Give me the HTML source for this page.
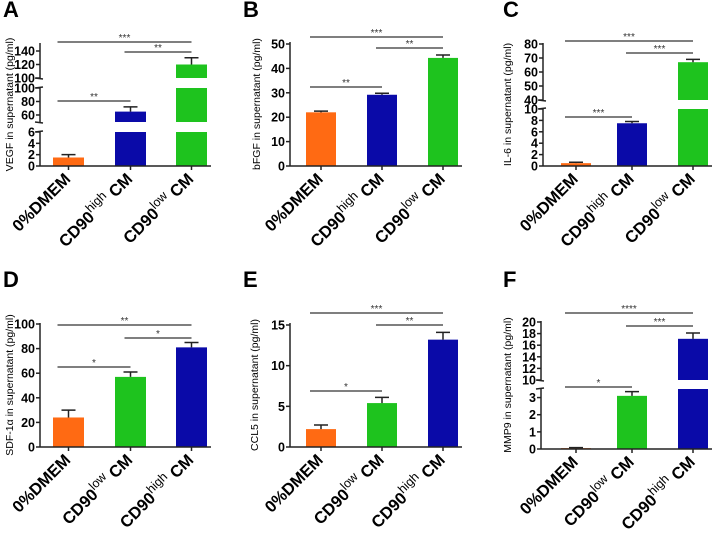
<!DOCTYPE html>
<html><head><meta charset="utf-8"><style>
body{margin:0;background:#fff}
svg text{font-family:"Liberation Sans",Arial,sans-serif}
</style></head><body>
<svg id="fig" width="725" height="532" viewBox="0 0 725 532"></svg>
<script>
// ---- data ----
const catsA=["0%DMEM","CD90|high| CM","CD90|low| CM"];
const catsD=["0%DMEM","CD90|low| CM","CD90|high| CM"];
const valsA=[1.5,65,120], errA=[2.0,72,130];
const valsB=[22,29.2,44.3], errB=[22.5,29.8,45.5];
const valsC=[0.5,7.5,67], errC=[0.65,7.8,69];
const valsD=[24,57,81], errD=[30,61,85];
const valsE=[2.2,5.4,13.2], errE=[2.7,6.1,14.1];
const valsF=[0.05,3.1,17.1], errF=[0.08,3.35,18.1];
const ticksA=[[0,2,4,6],[60,80,100],[100,120,140]];
const ticksB=[[0,10,20,30,40,50]];
const ticksC=[[0,2,4,6,8,10],[40,50,60,70,80]];
const ticksD=[[0,20,40,60,80,100]];
const ticksE=[[0,5,10,15]];
const ticksF=[[0,1,2,3],[10,12,14,16,18,20]];
const sigA=[["***",0,2],["**",1,2],["**",0,1]];
const sigB=[["***",0,2],["**",1,2],["**",0,1]];
const sigC=[["***",0,2],["***",1,2],["***",0,1]];
const sigD=[["**",0,2],["*",1,2],["*",0,1]];
const sigE=[["***",0,2],["**",1,2],["*",0,1]];
const sigF=[["****",0,2],["***",1,2],["*",0,1]];

const OR="#ff6a13",BL="#0a0aa8",GR="#1ec31e";
const NS="http://www.w3.org/2000/svg";
const svg=document.getElementById('fig');
function mk(t,a,p){const e=document.createElementNS(NS,t);for(const k in a)e.setAttribute(k,a[k]);(p||svg).appendChild(e);return e;}

const panels=[
 {L:"A",lx:3,ax:40,base:166,top:43,xs:[53,115,176],bw:31,colors:[OR,BL,GR],cats:catsA,vals:valsA,err:errA,ticks:ticksA,
  segs:[[0,6,166,132],[49.6,100,122,88],[100,140,78,51]],sig:sigA,sigY:[42,52,101],ylab:"VEGF in supernatant (pg/ml)",ylx:10},
 {L:"B",lx:243,ax:290,base:166,top:42,xs:[306,367,428],bw:30,colors:[OR,BL,GR],cats:catsA,vals:valsB,err:errB,ticks:ticksB,
  segs:[[0,50,166,44]],sig:sigB,sigY:[37,48,87],ylab:"bFGF in supernatant (pg/ml)",ylx:257},
 {L:"C",lx:503,ax:543,base:166,top:43,xs:[561,617,678],bw:30,colors:[OR,BL,GR],cats:catsA,vals:valsC,err:errC,ticks:ticksC,
  segs:[[0,10,166,109],[40,80,100,44]],sig:sigC,sigY:[41,53,117],ylab:"IL-6 in supernatant (pg/ml)",ylx:508},
 {L:"D",lx:3,ax:40,base:447,top:323,xs:[53,115,176],bw:31,colors:[OR,GR,BL],cats:catsD,vals:valsD,err:errD,ticks:ticksD,
  segs:[[0,100,447,324]],sig:sigD,sigY:[325,338,367],ylab:"SDF-1α in supernatant (pg/ml)",ylx:10},
 {L:"E",lx:243,ax:290,base:447,top:323,xs:[306,367,428],bw:30,colors:[OR,GR,BL],cats:catsD,vals:valsE,err:errE,ticks:ticksE,
  segs:[[0,15,447,325]],sig:sigE,sigY:[313,325,391],ylab:"CCL5 in supernatant (pg/ml)",ylx:255},
 {L:"F",lx:503,ax:541,base:449,top:321,xs:[561,617,678],bw:30,colors:[OR,GR,BL],cats:catsD,vals:valsF,err:errF,ticks:ticksF,
  segs:[[0,3.5,449,389],[10,20,380,322]],sig:sigF,sigY:[313,326,387],ylab:"MMP9 in supernatant (pg/ml)",ylx:508}
];

function segY(s,v){return s[2]+(v-s[0])*(s[3]-s[2])/(s[1]-s[0]);}
function yOf(p,v){for(let i=p.segs.length-1;i>=0;i--){const s=p.segs[i];if(v>=s[0]-1e-9)return segY(s,v);}return p.base;}

panels.forEach((p,pi)=>{
 const g=mk('g',{});
 
 
 const lt=mk('text',{x:p.lx,y:(pi<3?17:287),'font-size':22,'font-weight':'bold',fill:'#000'},g);lt.textContent=p.L;
 
 p.vals.forEach((v,i)=>{
  const x=p.xs[i];
  p.segs.forEach((s,si)=>{
   if(v<=s[0])return;
   const last=si==p.segs.length-1;
   const vv=last?v:Math.min(v,s[1]);
   const y1=segY(s,vv),y0=s[2];
   const r=mk('rect',{x:x,y:Math.min(y0,y1),width:p.bw,height:Math.max(0.8,Math.abs(y0-y1)),fill:p.colors[i]},g);
   
   
  });
  const vy=yOf(p,v),ey=yOf(p,p.err[i]),cx=x+p.bw/2;
  const e=mk('path',{d:`M${cx},${vy}V${ey}M${cx-7},${ey}H${cx+7}`,stroke:'#222','stroke-width':1.5,fill:'none'},g);
  
  const lx=cx+3,ly=p.base+14;
  const t=mk('text',{x:lx,y:ly,'text-anchor':'end','font-size':16.5,'font-weight':'bold',transform:`rotate(-45 ${lx} ${ly})`},g);
  
  const parts=p.cats[i].split('|');
  if(parts.length==1)t.textContent=parts[0];
  else{mk('tspan',{},t).textContent=parts[0];
   mk('tspan',{'baseline-shift':'super','font-size':12.5,'font-weight':'normal'},t).textContent=parts[1];
   mk('tspan',{},t).textContent=parts[2];}
 });
 const ax=p.ax;
 p.segs.forEach((s,si)=>{
  const topY=si==p.segs.length-1?p.top:s[3];
  mk('line',{x1:ax,y1:s[2],x2:ax,y2:topY,stroke:'#222','stroke-width':1.5},g);
  p.ticks[si].forEach(tv=>{
   const y=segY(s,tv);
   mk('line',{x1:ax-4,y1:y,x2:ax,y2:y,stroke:'#222','stroke-width':1.5},g);
   const tt=mk('text',{x:ax-5,y:y+4.5,'text-anchor':'end','font-size':12.5,'font-weight':'bold'},g);
   tt.textContent=tv;
  });
  if(si>0){mk('line',{x1:ax-5,y1:s[2],x2:ax+3,y2:s[2]+1,stroke:'#222','stroke-width':1.5},g);}
  if(si<p.segs.length-1){mk('line',{x1:ax-5,y1:s[3],x2:ax+3,y2:s[3]-1,stroke:'#222','stroke-width':1.5},g);}
 });
 const xa=mk('line',{x1:ax,y1:p.base,x2:p.xs[2]+p.bw+4,y2:p.base,stroke:'#222','stroke-width':1.5},g);
 
 p.xs.forEach(x=>mk('line',{x1:x+p.bw/2,y1:p.base,x2:x+p.bw/2,y2:p.base+4,stroke:'#222','stroke-width':1.5},g));
 const ymid=(p.base+p.top)/2;
 const yl=mk('text',{x:p.ylx,y:ymid,'text-anchor':'middle','font-size':10.5,transform:`rotate(-90 ${p.ylx} ${ymid})`,'dominant-baseline':'middle'},g);
 yl.textContent=p.ylab;
 p.sig.forEach((s,k)=>{
  const y=p.sigY[k],x1=p.xs[s[1]]+p.bw/2-(s[1]==0?5:0)-6,x2=p.xs[s[2]]+p.bw/2;
  const l=mk('line',{x1:x1,y1:y,x2:x2,y2:y,stroke:'#333','stroke-width':1.2},g);
  
  const st=mk('text',{x:(x1+x2)/2,y:y-1,'text-anchor':'middle','font-size':10,fill:'#333'},g);
  st.textContent=s[0];
 });
});
</script>
</body></html>
